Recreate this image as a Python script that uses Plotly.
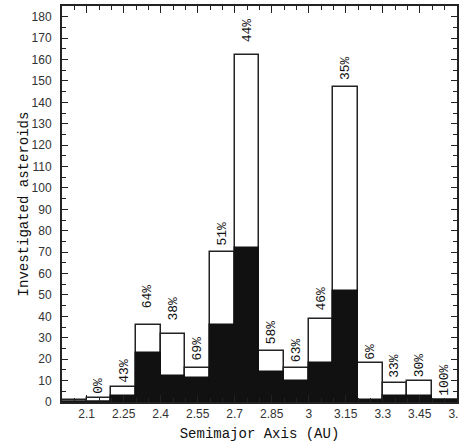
import plotly.graph_objects as go

# bins of 0.1 AU from 2.0 to 3.6
bin_left = [2.0, 2.1, 2.2, 2.3, 2.4, 2.5, 2.6, 2.7, 2.8, 2.9, 3.0, 3.1, 3.2, 3.3, 3.4, 3.5]
total = [1, 2, 7, 36, 32, 16, 70, 162, 24, 16, 39, 147, 18, 9, 10, 1]
dark = [0, 0, 3, 23, 12, 11, 36, 72, 14, 10, 18, 52, 1, 3, 3, 1]
pct_labels = ['', '0%', '43%', '64%', '38%', '69%', '51%', '44%', '58%', '63%', '46%', '35%', '6%', '33%', '30%', '100%']

# hand placed label lift above each bar (px)
label_lift = [0, 2, 2, 15, 11, 5, 5, 11, 4, 4, 6, 5, 2, 3, 1, 2]

BIN_W = 0.1
centers = [b + BIN_W / 2 for b in bin_left]

fig = go.Figure()
fig.add_trace(go.Bar(x=centers, y=total, width=BIN_W,
                     marker=dict(color='white', line=dict(color='#222', width=1.5))))
fig.add_trace(go.Bar(x=centers, y=dark, width=BIN_W,
                     marker=dict(color='#111', line=dict(color='#111', width=1.5))))

for xc, yv, txt, lift in zip(centers, total, pct_labels, label_lift):
    if not txt:
        continue
    fig.add_annotation(x=xc, y=yv, text=txt, textangle=-90, showarrow=False,
                       xanchor='center', yanchor='bottom', yshift=lift,
                       font=dict(family='Liberation Mono', size=13, color='#111'))

axis_common = dict(showline=True, linecolor='#222', linewidth=2, mirror='ticks',
                   ticks='inside', tickcolor='#222', showgrid=False, zeroline=False,
                   automargin=False, ticklabeloverflow='allow',
                   tickfont=dict(family='Liberation Sans', size=12, color='#333'))

fig.update_xaxes(range=[2.0, 3.601], tick0=2.1, dtick=0.15, ticklen=7, tickwidth=1,
                 minor=dict(dtick=0.05, tick0=2.0, ticks='inside', ticklen=4, tickcolor='#222'),
                 title=dict(text='Semimajor Axis (AU)', standoff=8,
                            font=dict(family='Liberation Mono', size=14, color='#111')),
                 **axis_common)
fig.update_yaxes(range=[0, 185], tick0=0, dtick=10, ticklen=6, tickwidth=1,
                 minor=dict(dtick=5, ticks='inside', ticklen=4, tickcolor='#222'),
                 ticklabelstandoff=6,
                 title=dict(text='Investigated asteroids', standoff=0,
                            font=dict(family='Liberation Mono', size=14, color='#111')),
                 **axis_common)

fig.update_layout(width=459, height=446, barmode='overlay', bargap=0,
                  showlegend=False,
                  margin=dict(l=62, r=2, t=6, b=44),
                  paper_bgcolor='white', plot_bgcolor='white')

# page body has a default 8px margin, drop it so the figure sits at 0,0
fig.write_html("out.html", config={'displayModeBar': False},
               post_script="document.body.style.margin='0';")
